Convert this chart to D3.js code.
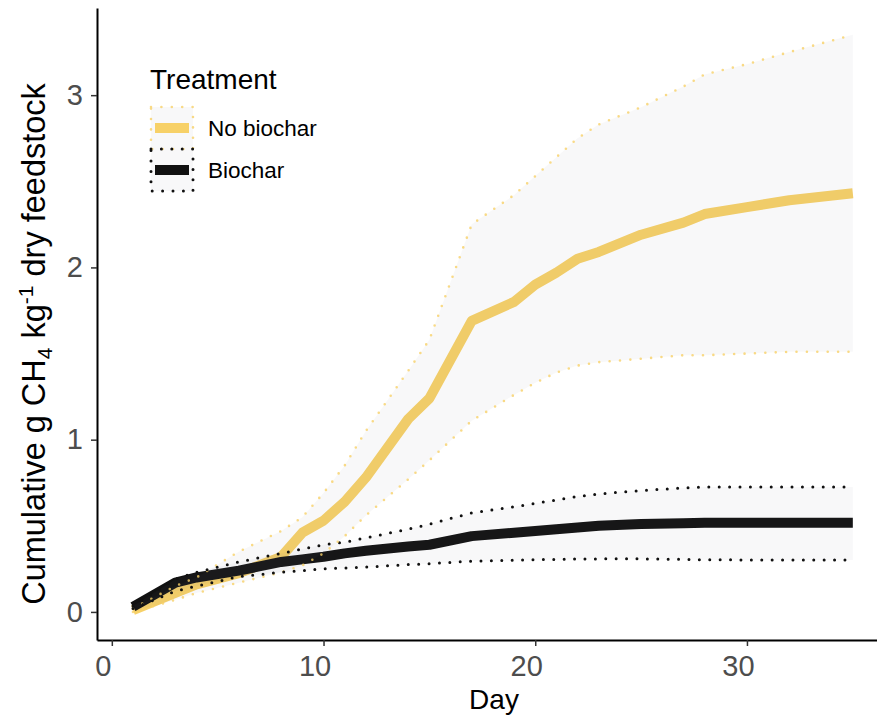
<!DOCTYPE html>
<html>
<head>
<meta charset="utf-8">
<script src="https://cdn.jsdelivr.net/npm/d3@7"></script>
<style>
  html, body { margin: 0; padding: 0; background: #fff; }
  svg { display: block; font-family: "Liberation Sans", Arial, Helvetica, sans-serif; }
</style>
</head>
<body>
<svg id="chart" width="877" height="719"></svg>
<script>
// Sampling days
const days = [1, 3, 4, 6, 8, 9, 10, 11, 12, 14, 15, 17, 19, 20, 21, 22, 23, 25, 27, 28, 30, 32, 35];

// No biochar: mean and ribbon bounds (g CH4 per kg dry feedstock)
const noBiocharMean  = [0.01, 0.11, 0.16, 0.225, 0.32, 0.46, 0.53, 0.64, 0.78, 1.12, 1.24, 1.69, 1.80, 1.90, 1.97, 2.05, 2.09, 2.19, 2.26, 2.31, 2.35, 2.39, 2.43];
const noBiocharUpper = [0.02, 0.15, 0.20, 0.35, 0.47, 0.55, 0.69, 0.85, 1.05, 1.40, 1.58, 2.25, 2.42, 2.53, 2.64, 2.75, 2.83, 2.93, 3.05, 3.12, 3.18, 3.25, 3.35];
const noBiocharLower = [0.00, 0.07, 0.11, 0.17, 0.23, 0.27, 0.34, 0.44, 0.56, 0.77, 0.88, 1.11, 1.26, 1.33, 1.39, 1.43, 1.45, 1.47, 1.49, 1.49, 1.50, 1.51, 1.51];

// Biochar: mean and ribbon bounds
const biocharMean  = [0.03, 0.17, 0.20, 0.24, 0.29, 0.305, 0.32, 0.34, 0.355, 0.38, 0.39, 0.44, 0.46, 0.47, 0.48, 0.49, 0.50, 0.51, 0.515, 0.517, 0.517, 0.517, 0.517];
const biocharUpper = [0.035, 0.19, 0.23, 0.29, 0.34, 0.365, 0.39, 0.405, 0.43, 0.48, 0.51, 0.575, 0.61, 0.63, 0.65, 0.67, 0.685, 0.705, 0.72, 0.725, 0.725, 0.725, 0.725];
const biocharLower = [0.02, 0.12, 0.15, 0.205, 0.23, 0.24, 0.25, 0.255, 0.26, 0.275, 0.28, 0.295, 0.30, 0.303, 0.305, 0.307, 0.308, 0.308, 0.305, 0.303, 0.302, 0.302, 0.302];

const xTicks = [0, 10, 20, 30];
const yTicks = [0, 1, 2, 3];
const treatments = ["No biochar", "Biochar"];

const colors = { "No biochar": "#f7d168", "Biochar": "#111111" };

const series = [
  { name: "No biochar", mean: noBiocharMean, upper: noBiocharUpper, lower: noBiocharLower },
  { name: "Biochar", mean: biocharMean, upper: biocharUpper, lower: biocharLower }
].map(s => ({
  name: s.name,
  pts: days.map((d, i) => ({ day: d, mean: s.mean[i], upper: s.upper[i], lower: s.lower[i] }))
}));

const svg = d3.select("#chart");

const x = d3.scaleLinear().domain([-0.7, 36.7]).range([97, 888.8]);
const y = d3.scaleLinear().domain([-0.163, 3.506]).range([640, 8]);

const plot = svg.append("g");

// Mean lines
const meanLine = d3.line().x(d => x(d.day)).y(d => y(d.mean));
plot.selectAll("path.mean")
  .data(series)
  .join("path")
  .attr("class", "mean")
  .attr("d", s => meanLine(s.pts))
  .attr("fill", "none")
  .attr("stroke", s => colors[s.name])
  .attr("stroke-width", 10)
  .attr("stroke-linejoin", "round")
  .attr("stroke-linecap", "butt");

// Ribbons with dotted outlines
const area = d3.area().x(d => x(d.day)).y0(d => y(d.lower)).y1(d => y(d.upper));
plot.selectAll("path.ribbon")
  .data(series)
  .join("path")
  .attr("class", "ribbon")
  .attr("d", s => area(s.pts))
  .attr("fill", "#767684")
  .attr("fill-opacity", 0.05)
  .attr("stroke", "none");

["upper", "lower"].forEach(key => {
  const edge = d3.line().x(d => x(d.day)).y(d => y(d[key]));
  plot.selectAll("path.edge-" + key)
    .data(series)
    .join("path")
    .attr("class", "edge-" + key)
    .attr("d", s => edge(s.pts))
    .attr("fill", "none")
    .attr("stroke", s => colors[s.name])
    .attr("stroke-opacity", s => s.name === "Biochar" ? 1 : 0.8)
    .attr("stroke-width", s => s.name === "Biochar" ? 3 : 2.6)
    .attr("stroke-linecap", "round")
    .attr("stroke-dasharray", "0 10.4");
});

// Axes
const xAxis = svg.append("g")
  .attr("transform", "translate(0,640)")
  .call(d3.axisBottom(x).tickValues(xTicks).tickFormat(d3.format("d")).tickSize(6).tickPadding(8).tickSizeOuter(0));
xAxis.select(".domain").attr("stroke", "#000").attr("stroke-width", 2);
xAxis.selectAll(".tick line").attr("stroke", "#333").attr("stroke-width", 1.5);
xAxis.selectAll(".tick text")
  .attr("font-size", 29)
  .attr("fill", "#4d4d4d")
  .attr("font-family", "Liberation Sans, Arial, sans-serif")
  .attr("dx", -9)
  .attr("dy", "0.76em");

const yAxis = svg.append("g")
  .attr("transform", "translate(97,0)")
  .call(d3.axisLeft(y).tickValues(yTicks).tickFormat(d3.format("d")).tickSize(6).tickPadding(8).tickSizeOuter(0));
yAxis.select(".domain").attr("stroke", "#000").attr("stroke-width", 2);
yAxis.selectAll(".tick line").attr("stroke", "#333").attr("stroke-width", 1.5);
yAxis.selectAll(".tick text")
  .attr("font-size", 29)
  .attr("fill", "#4d4d4d")
  .attr("font-family", "Liberation Sans, Arial, sans-serif");

// Axis titles
svg.append("text")
  .attr("x", 494)
  .attr("y", 709)
  .attr("text-anchor", "middle")
  .attr("font-size", 28)
  .attr("fill", "#000")
  .text("Day");

const yTitle = svg.append("text")
  .attr("transform", "translate(45,344) rotate(-90)")
  .attr("text-anchor", "middle")
  .attr("font-size", 32.5)
  .attr("fill", "#000");
yTitle.append("tspan").text("Cumulative g CH");
yTitle.append("tspan").attr("font-size", 21).attr("dy", 7).text("4");
yTitle.append("tspan").attr("dy", -7).text(" kg");
yTitle.append("tspan").attr("font-size", 21).attr("dy", -12).text("-1");
yTitle.append("tspan").attr("dy", 12).text(" dry feedstock");

// Legend
const legend = svg.append("g");
legend.append("text")
  .attr("x", 150).attr("y", 89)
  .attr("font-size", 28)
  .attr("fill", "#000")
  .text("Treatment");

const keyW = 42, keyH = 42, keyTop = 107;
const keys = legend.selectAll("g.key")
  .data(treatments)
  .join("g")
  .attr("class", "key")
  .attr("transform", (d, i) => `translate(151,${keyTop + i * keyH})`);

keys.append("rect")
  .attr("x", 0).attr("y", 0).attr("width", keyW).attr("height", keyH)
  .attr("fill", "#767684").attr("fill-opacity", 0.05)
  .attr("stroke", d => colors[d])
  .attr("stroke-opacity", d => d === "Biochar" ? 1 : 0.8)
  .attr("stroke-width", d => d === "Biochar" ? 3 : 2.6)
  .attr("stroke-linecap", "round")
  .attr("stroke-dasharray", "0 10.4");

keys.append("line")
  .attr("x1", 4).attr("x2", keyW - 4)
  .attr("y1", keyH / 2).attr("y2", keyH / 2)
  .attr("stroke", d => colors[d])
  .attr("stroke-width", 10);

keys.append("text")
  .attr("x", 57)
  .attr("y", keyH / 2)
  .attr("dy", "0.35em")
  .attr("font-size", 22.5)
  .attr("fill", "#000")
  .text(d => d);
</script>
</body>
</html>
